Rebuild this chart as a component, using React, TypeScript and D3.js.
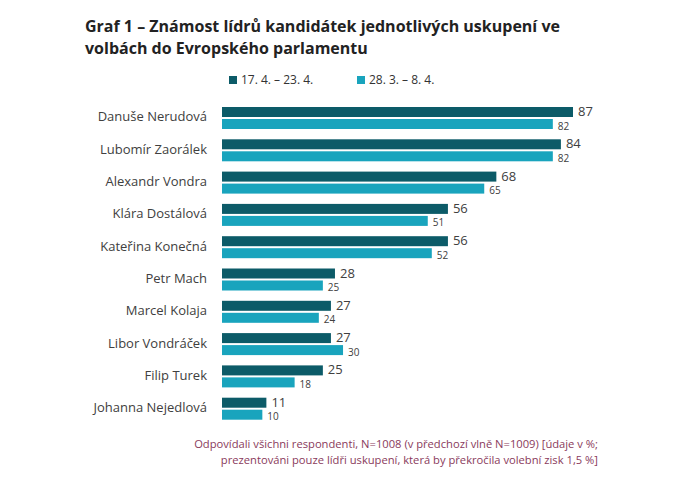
import * as d3 from 'd3'

const leaders = [
  'Danuše Nerudová',
  'Lubomír Zaorálek',
  'Alexandr Vondra',
  'Klára Dostálová',
  'Kateřina Konečná',
  'Petr Mach',
  'Marcel Kolaja',
  'Libor Vondráček',
  'Filip Turek',
  'Johanna Nejedlová',
]
const currentWave = [87, 84, 68, 56, 56, 28, 27, 27, 25, 11]
const previousWave = [82, 82, 65, 51, 52, 25, 24, 30, 18, 10]
const seriesLabels = ['17. 4. – 23. 4.', '28. 3. – 8. 4.']

const DARK = '#0c5b68'
const LIGHT = '#19a4bd'
const FONT = '"Open Sans", "Noto Sans", sans-serif'

export default function App() {
  const width = 700
  const height = 478
  const x = d3.scaleLinear().domain([0, 87]).range([222, 573])
  const y = d3.scaleBand<string>().domain(leaders).range([104, 427]).paddingInner(0).paddingOuter(0)
  const barH = 10
  const gap = 2

  return (
    <svg
      width={width}
      height={height}
      style={{ position: 'absolute', left: 0, top: 0, background: '#fff', fontFamily: FONT }}
    >
      <text x={85} y={32} fontSize={16} fontWeight={700} fill="#222">
        Graf 1 – Známost lídrů kandidátek jednotlivých uskupení ve
      </text>
      <text x={85} y={54} fontSize={16} fontWeight={700} fill="#222">
        volbách do Evropského parlamentu
      </text>

      {/* legend */}
      {seriesLabels.map((label, i) => {
        const lx = i === 0 ? 229 : 357
        return (
          <g key={label}>
            <rect x={lx} y={76} width={8} height={8} fill={i === 0 ? DARK : LIGHT} />
            <text x={lx + 12} y={84} fontSize={12} fill="#333">
              {label}
            </text>
          </g>
        )
      })}

      {leaders.map((name, i) => {
        const top = (y(name) ?? 0) + 3
        const cur = currentWave[i]
        const prev = previousWave[i]
        return (
          <g key={name}>
            <text
              x={207}
              y={top + barH + gap / 2}
              textAnchor="end"
              dominantBaseline="middle"
              fontSize={13}
              fill="#404040"
            >
              {name}
            </text>
            <rect x={x(0)} y={top} width={x(cur) - x(0)} height={barH} fill={DARK} />
            <rect x={x(0)} y={top + barH + gap} width={x(prev) - x(0)} height={barH} fill={LIGHT} />
            <text x={x(cur) + 5} y={top + barH - 1} fontSize={13} fill="#404040">
              {cur}
            </text>
            <text x={x(prev) + 5} y={top + 2 * barH + gap + 0.5} fontSize={10} fill="#404040">
              {prev}
            </text>
          </g>
        )
      })}

      <text x={598} y={448} textAnchor="end" fontSize={11.2} fill="#8a3a5c">
        Odpovídali všichni respondenti, N=1008 (v předchozí vlně N=1009) [údaje v %;
      </text>
      <text x={598} y={464} textAnchor="end" fontSize={11.2} fill="#8a3a5c">
        prezentováni pouze lídři uskupení, která by překročila volební zisk 1,5 %]
      </text>
    </svg>
  )
}
